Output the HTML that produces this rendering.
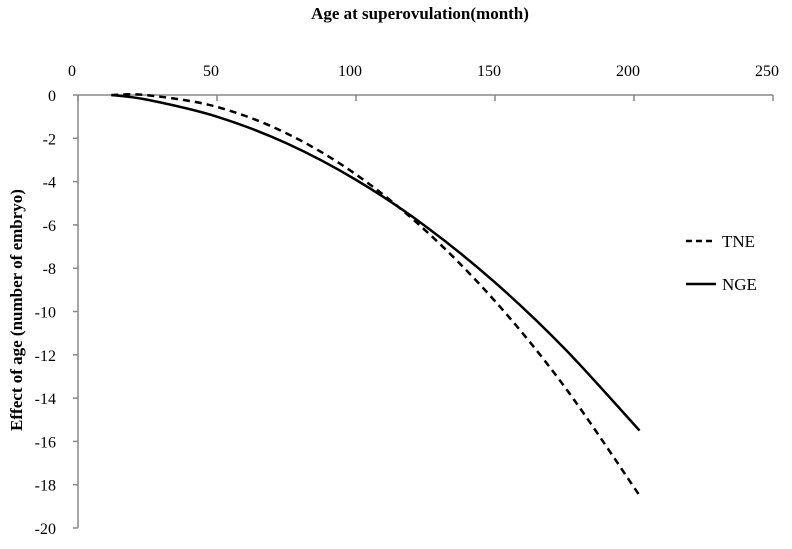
<!DOCTYPE html>
<html><head><meta charset="utf-8"><style>
body{margin:0;background:#fff}
svg text{font-family:"Liberation Serif",serif;fill:#000}
</style></head><body>
<svg width="792" height="544" id="c">
<text x="420" y="19" text-anchor="middle" font-size="17" font-weight="bold">Age at superovulation(month)</text>
<text transform="translate(22,310) rotate(-90)" text-anchor="middle" font-size="17" font-weight="bold">Effect of age (number of embryo)</text>
<g>
<line x1="686" y1="241" x2="716" y2="241" stroke="#000" stroke-width="2.5" stroke-dasharray="6,4"/>
<text x="722" y="247" font-size="17">TNE</text>
<line x1="686" y1="284" x2="716" y2="284" stroke="#000" stroke-width="2.5"/>
<text x="722" y="290" font-size="17">NGE</text>
</g>
</svg>
<script>
const xTicks=[0,50,100,150,200,250];
const yTicks=[0,-2,-4,-6,-8,-10,-12,-14,-16,-18,-20];
const ages=[12,25,50,75,100,125,150,175,202];
const tne=[0,-0.01,-0.55,-1.77,-3.67,-6.26,-9.52,-13.47,-18.5];
const nge=[0,-0.22,-1.0,-2.23,-3.92,-6.06,-8.66,-11.71,-15.5];
const X0=78,X1=773,Y0=95,Y1=528;
const sx=v=>X0+(v-0)/(250-0)*(X1-X0);
const sy=v=>Y0+(0-v)/(0-(-20))*(Y1-Y0);
const svg=document.getElementById('c');const NS='http://www.w3.org/2000/svg';
function mk(t,a){const e=document.createElementNS(NS,t);for(const k in a)e.setAttribute(k,a[k]);svg.appendChild(e);return e;}
let ax=mk('line',{x1:X0,y1:Y0,x2:X1,y2:Y0,stroke:'#888','stroke-width':1.5});


let ay=mk('line',{x1:X0,y1:Y0,x2:X0,y2:Y1,stroke:'#888','stroke-width':1.5});


xTicks.forEach(v=>{
 let t=mk('line',{x1:sx(v),y1:Y0,x2:sx(v),y2:Y0+6,stroke:'#888','stroke-width':1.5});
 
 
 let l=mk('text',{x:sx(v)-6,y:76,'text-anchor':'middle','font-size':16});l.textContent=v;
 
 
});
yTicks.forEach(v=>{
 let t=mk('line',{x1:X0-5,y1:sy(v),x2:X0,y2:sy(v),stroke:'#888','stroke-width':1.5});
 
 
 let l=mk('text',{x:56,y:sy(v)+6,'text-anchor':'end','font-size':16});l.textContent=v;
 
 
});
function path(vals){
 const p=ages.map((a,i)=>[sx(a),sy(vals[i])]);
 let d='M'+p[0][0]+','+p[0][1];
 for(let i=0;i<p.length-1;i++){
  const p0=p[i-1]||p[i],p1=p[i],p2=p[i+1],p3=p[i+2]||p2;
  d+=' C'+(p1[0]+(p2[0]-p0[0])/6)+','+(p1[1]+(p2[1]-p0[1])/6)+' '+(p2[0]-(p3[0]-p1[0])/6)+','+(p2[1]-(p3[1]-p1[1])/6)+' '+p2[0]+','+p2[1];
 }
 return d;
}
let s1=mk('path',{d:path(tne),fill:'none',stroke:'#000','stroke-width':2.5,'stroke-dasharray':'7,5'});


let s2=mk('path',{d:path(nge),fill:'none',stroke:'#000','stroke-width':2.5});


</script>
</body></html>
